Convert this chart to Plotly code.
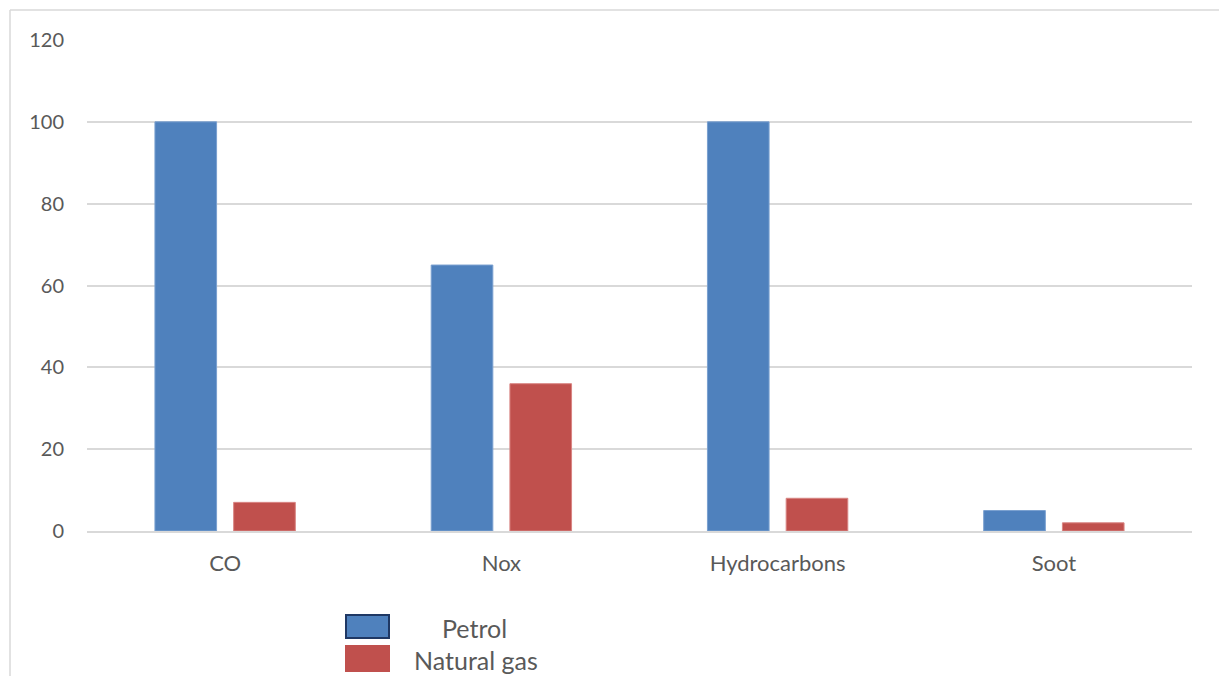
import plotly.graph_objects as go

categories = ["CO", "Nox", "Hydrocarbons", "Soot"]
petrol = [100, 65, 100, 5]
natural_gas = [7, 36, 8, 2]
y_ticks = [0, 20, 40, 60, 80, 100, 120]

BLUE = "#4f81bd"
RED = "#c0504d"
TEXT = "#595959"
GRID = "#d9d9d9"
FONT = "Lato, Open Sans, sans-serif"

W, H = 1219, 676
ML, MR, MT, MB = 87, 27, 40, 145
PW, PH = W - ML - MR, H - MT - MB


def px(x):
    return (x - ML) / PW


def py(y):
    return (H - MB - y) / PH


fig = go.Figure()
fig.add_trace(go.Bar(x=categories, y=petrol, name="Petrol", marker_color=BLUE,
                     marker_line=dict(color="#7aa0d0", width=1), showlegend=False))
fig.add_trace(go.Bar(x=categories, y=natural_gas, name="Natural gas", marker_color=RED,
                     marker_line=dict(color="#d98583", width=1), showlegend=False))

shapes = [
    # outer frame (top and left edges)
    dict(type="line", xref="paper", yref="paper", x0=px(10), x1=px(1219), y0=py(10), y1=py(10),
         line=dict(color=GRID, width=1.5)),
    dict(type="line", xref="paper", yref="paper", x0=px(10), x1=px(10), y0=py(10), y1=py(676),
         line=dict(color=GRID, width=1.5)),
    # legend swatches
    dict(type="rect", xref="paper", yref="paper", x0=px(346), x1=px(389), y0=py(615), y1=py(638),
         fillcolor=BLUE, line=dict(color="#1f3864", width=2)),
    dict(type="rect", xref="paper", yref="paper", x0=px(345), x1=px(390), y0=py(645), y1=py(672),
         fillcolor=RED, line=dict(color=RED, width=0)),
]

annotations = [
    dict(xref="paper", yref="paper", x=px(474), y=py(628), text="Petrol", showarrow=False,
         font=dict(family=FONT, size=25, color=TEXT), xanchor="center", yanchor="middle"),
    dict(xref="paper", yref="paper", x=px(476), y=py(660), text="Natural gas", showarrow=False,
         font=dict(family=FONT, size=25, color=TEXT), xanchor="center", yanchor="middle"),
]

fig.update_layout(
    width=W, height=H,
    margin=dict(l=ML, r=MR, t=MT, b=MB),
    paper_bgcolor="white", plot_bgcolor="white",
    barmode="group", bargap=0.43, bargroupgap=0.217,
    font=dict(family=FONT, size=20, color=TEXT),
    shapes=shapes, annotations=annotations,
    showlegend=False,
)
fig.update_yaxes(range=[0, 120], tickvals=y_ticks, showgrid=True, gridcolor=GRID, gridwidth=1.5,
                 zeroline=False, showline=False, ticks="", ticklabelstandoff=22,
                 tickfont=dict(family=FONT, size=20, color=TEXT))
fig.update_xaxes(showline=True, linecolor=GRID, linewidth=2, ticks="", ticklabelstandoff=12,
                 tickfont=dict(family=FONT, size=22, color=TEXT))

fig.write_html("out.html")
